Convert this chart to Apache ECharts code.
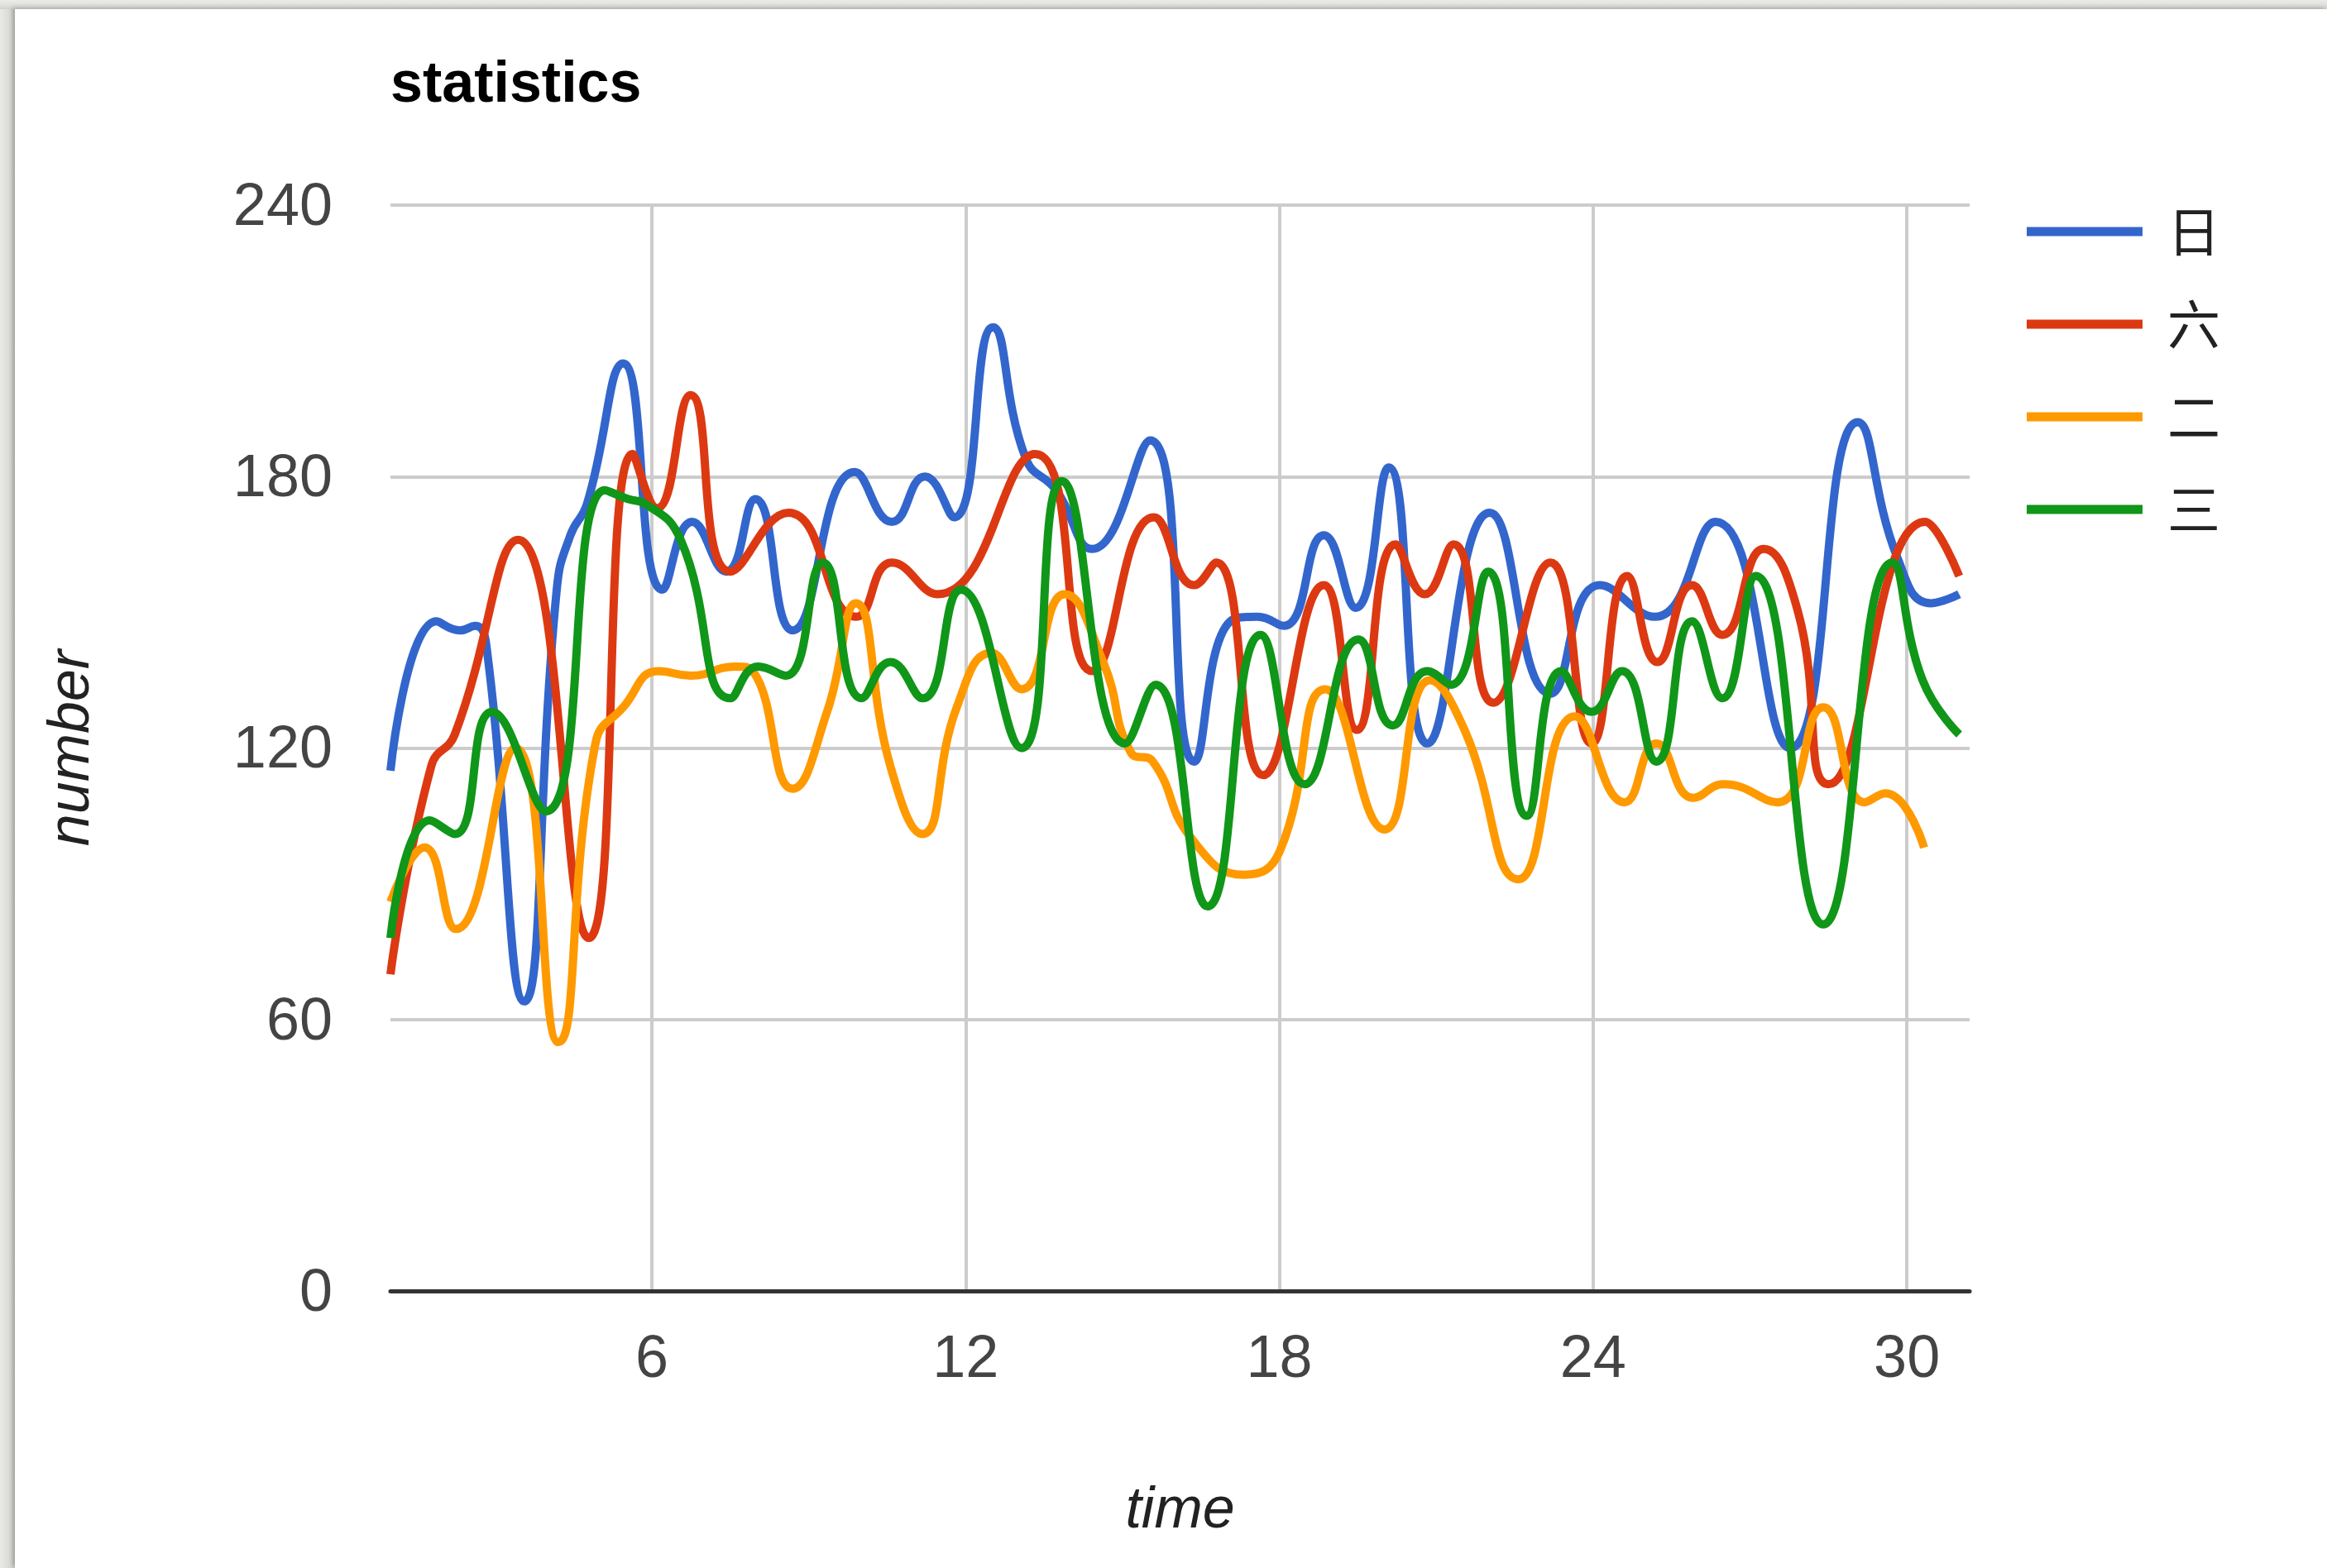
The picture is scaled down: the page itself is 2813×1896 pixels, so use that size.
<!DOCTYPE html>
<html>
<head>
<meta charset="utf-8">
<script src="https://cdn.jsdelivr.net/npm/echarts@6/dist/echarts.min.js"></script>
<style>
  html, body { margin: 0; padding: 0; width: 2813px; height: 1896px; overflow: hidden;
    background: linear-gradient(90deg, #e9e9e5 0px, #d9d9d5 12px, #c4c4c0 18px); }
  #topband { position: absolute; left: 0; top: 0; width: 2813px; height: 11px;
    background: linear-gradient(180deg, #ebebe7 0px, #dcdcd8 8px, #cfcfcb 11px); }
  #chart { position: absolute; left: 18px; top: 11px; width: 2795px; height: 1885px; background: #ffffff;
    box-shadow: -3px -2px 5px rgba(0,0,0,0.18); }
</style>
</head>
<body>
<div id="topband"></div>
<div id="chart"></div>
<script>
// ---- data ----
const seriesNames = ['日', '六', '二', '三'];
const xTicks = [6, 12, 18, 24, 30];
const yTicks = [0, 60, 120, 180, 240];

const riT = [1, 1.88, 2.33, 2.62, 2.83, 3.56, 4.18, 4.44, 4.76, 5.45, 6.2, 6.77, 7.42, 7.98, 8.69, 9.88, 10.59, 11.22, 11.78, 12.52, 13.15, 13.73, 14.42, 15.53, 16.37, 17.06, 17.58, 18.08, 18.85, 19.46, 20.09, 20.83, 22.02, 23.18, 24.13, 25.18, 26.34, 27.77, 29.06, 29.82, 30.46, 31];
const riV = [115, 148, 146, 147, 143, 64, 155, 167, 174, 205, 155, 170, 159, 175, 146, 181, 170, 180, 171, 213, 184, 177, 164, 188, 117, 148, 149, 147, 167, 151, 182, 121, 172, 132, 156, 149, 170, 120, 192, 162, 152, 154];

const liuT = [1, 1.78, 2.23, 3.44, 4.79, 5.63, 6.1, 6.74, 7.5, 8.61, 9.91, 10.59, 11.46, 13.33, 14.42, 15.6, 16.37, 16.79, 17.69, 18.85, 19.48, 20.22, 20.78, 21.33, 22.09, 23.18, 23.97, 24.65, 25.23, 25.89, 26.47, 27.26, 27.92, 28.5, 30.35, 31];
const liuV = [70, 116, 123, 166, 78, 185, 173, 198, 159, 172, 149, 161, 154, 185, 137, 171, 156, 161, 114, 156, 124, 165, 154, 165, 130, 161, 121, 158, 139, 156, 145, 164, 150, 112, 170, 158];

const erT = [1, 1.65, 2.25, 3.39, 4.21, 4.92, 5.45, 6.13, 6.74, 7.61, 7.93, 8.69, 9.35, 9.9, 10.56, 11.17, 11.83, 12.49, 13.07, 13.89, 14.63, 15.16, 15.58, 16.32, 17.32, 18.0, 18.88, 20.01, 20.88, 21.54, 22.57, 23.65, 24.6, 25.21, 25.92, 26.5, 27.53, 28.4, 29.19, 29.59, 30.33];
const erV = [86, 98, 80, 120, 55, 121, 129, 137, 136, 138, 137, 111, 128, 152, 116, 101, 129, 141, 133, 154, 139, 119, 117, 100, 92, 97, 133, 102, 135, 124, 91, 127, 108, 121, 109, 112, 108, 129, 108, 110, 98];

const sanT = [1, 1.75, 2.23, 2.94, 3.97, 5.1, 5.55, 5.87, 6.55, 7.5, 8.03, 8.56, 9.27, 10.01, 10.56, 11.18, 11.91, 13.07, 13.84, 15.05, 15.63, 16.63, 17.64, 18.48, 19.51, 20.17, 20.83, 21.28, 21.99, 22.73, 23.39, 23.97, 24.55, 25.21, 25.89, 26.47, 27.11, 28.4, 29.72, 30.3, 31];
const sanV = [78, 104, 101, 128, 106, 177, 175, 174, 166, 131, 138, 136, 161, 131, 139, 131, 155, 120, 179, 121, 134, 85, 145, 112, 144, 125, 137, 134, 159, 105, 137, 128, 137, 117, 148, 131, 158, 81, 161, 135, 123];

const colors = ['#3366cc', '#dc3912', '#ff9900', '#109618'];
const allT = [riT, liuT, erT, sanT];
const allV = [riV, liuV, erV, sanV];

const latin = '"Liberation Sans", Arial, Helvetica, sans-serif';

const chart = echarts.init(document.getElementById('chart'), null, { renderer: 'canvas' });
const option = {
  animation: false,
  backgroundColor: '#ffffff',
  color: colors,
  title: {
    text: 'statistics',
    left: 454, top: 58, padding: 0,
    textStyle: { fontFamily: latin, fontWeight: 'bold', fontSize: 70, color: '#000000' }
  },
  legend: {
    orient: 'vertical',
    left: 2432, top: 237, padding: 0,
    itemWidth: 140, itemHeight: 11, itemGap: 48,
    icon: 'rect',
    data: seriesNames,
    textStyle: { fontFamily: '"Noto Sans CJK SC", sans-serif', fontSize: 64, lineHeight: 64,
      color: '#222222', padding: [0, 0, 0, 25] }
  },
  grid: { left: 454, right: 432, top: 237, bottom: 335, containLabel: false },
  xAxis: {
    type: 'value', min: 1, max: 31.2,
    name: 'time', nameLocation: 'middle', nameGap: 232,
    nameTextStyle: { fontFamily: latin, fontStyle: 'italic', fontSize: 70, color: '#222222' },
    axisLine: { show: true, onZero: false, lineStyle: { color: '#333333', width: 5 } },
    axisTick: { show: false, customValues: xTicks },
    axisLabel: { customValues: xTicks, fontFamily: latin, fontSize: 72, color: '#444444', margin: 48 },
    splitLine: { show: true, lineStyle: { color: '#cccccc', width: 4 } }
  },
  yAxis: {
    type: 'value', min: yTicks[0], max: yTicks[yTicks.length - 1], interval: 60,
    name: 'number', nameLocation: 'middle', nameGap: 349, nameRotate: 90,
    nameTextStyle: { fontFamily: latin, fontStyle: 'italic', fontSize: 70, color: '#222222' },
    axisLine: { show: false },
    axisTick: { show: false },
    axisLabel: {
      margin: 70,
      formatter: '{v|{value}}',
      rich: { v: { fontFamily: latin, fontSize: 72, color: '#444444', padding: [8, 0, 0, 0] } }
    },
    splitLine: { show: true, lineStyle: { color: '#cccccc', width: 4 } }
  },
  series: seriesNames.map((name, i) => ({
    name: name,
    type: 'line',
    smooth: 0.5,
    symbol: 'none',
    lineStyle: { width: 10, color: colors[i] },
    itemStyle: { color: colors[i] },
    data: allT[i].map((t, k) => [t, allV[i][k]])
  }))
};
chart.setOption(option);
</script>
</body>
</html>
